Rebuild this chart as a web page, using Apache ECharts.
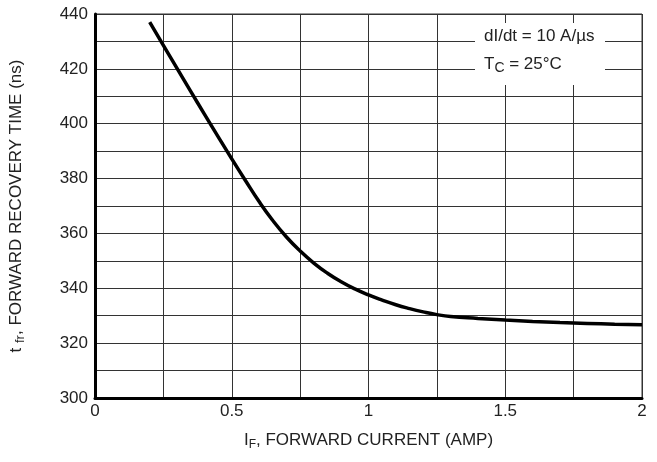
<!DOCTYPE html>
<html><head><meta charset="utf-8">
<script src="https://cdn.jsdelivr.net/npm/echarts@6/dist/echarts.min.js"></script>
<style>html,body{margin:0;padding:0;background:#fff}#c{width:657px;height:462px}</style>
</head><body><div id="c"></div>
<script>
const currentA = [0.2, 0.25, 0.3, 0.35, 0.4, 0.45, 0.5, 0.55, 0.6, 0.65, 0.7, 0.75, 0.8, 0.85, 0.9, 0.95, 1.0, 1.05, 1.1, 1.15, 1.2, 1.25, 1.3, 1.4, 1.5, 1.6, 1.7, 1.8, 1.9, 2.0];
const recoveryNs = [437, 428.6, 420.2, 411.8, 403.5, 395.3, 387.2, 379.3, 371.6, 364.7, 358.7, 353.6, 349.2, 345.5, 342.4, 339.8, 337.6, 335.7, 334.0, 332.6, 331.4, 330.4, 329.7, 329.0, 328.4, 327.9, 327.5, 327.2, 326.9, 326.7];
const xTickLabels = ['0', '0.5', '1', '1.5', '2'];
const yTickLabels = ['300', '320', '340', '360', '380', '400', '420', '440'];
const annotationLines = ['dI/dt = 10 A/\u00b5s', 'T', 'C', ' = 25\u00b0C'];

const FONT = '"Liberation Sans", Arial, sans-serif';
const chart = echarts.init(document.getElementById('c'), null, {renderer: 'canvas'});
const pts = currentA.map((x, i) => [x, recoveryNs[i]]);
chart.setOption({
  animation: false,
  backgroundColor: '#fff',
  grid: {left: 95, right: 15, top: 14, bottom: 64, show: true, borderColor: '#333', borderWidth: 1},
  xAxis: {
    type: 'value', min: 0, max: 2, interval: 0.25,
    axisLine: {show: true, onZero: false, lineStyle: {color: '#000', width: 3}},
    axisTick: {show: false},
    splitLine: {show: true, lineStyle: {color: '#333', width: 1}},
    axisLabel: {
      color: '#222', fontFamily: FONT, fontSize: 17, margin: 5,
      formatter: v => { const i = Math.round(v / 0.5); return Math.abs(v - i * 0.5) < 1e-6 ? xTickLabels[i] : ''; }
    },
    name: '{m|I}{s|F}{m|, FORWARD CURRENT (AMP)}',
    nameLocation: 'middle', nameGap: 32,
    nameTextStyle: {
      rich: {
        m: {fontFamily: FONT, fontSize: 17, color: '#222'},
        s: {fontFamily: FONT, fontSize: 12, color: '#222', padding: [9, 0, 0, 0]}
      }
    }
  },
  yAxis: {
    type: 'value', min: 300, max: 440, interval: 10,
    axisLine: {show: true, onZero: false, lineStyle: {color: '#000', width: 3}},
    axisTick: {show: false},
    splitLine: {show: true, lineStyle: {color: '#333', width: 1}},
    axisLabel: {
      color: '#222', fontFamily: FONT, fontSize: 17, margin: 7,
      formatter: v => { const i = Math.round((v - 300) / 20); return Math.abs(v - 300 - i * 20) < 1e-6 ? yTickLabels[i] : ''; }
    },
    name: '{m|t }{s|fr}{m|, FORWARD RECOVERY TIME (ns)}',
    nameLocation: 'middle', nameGap: 68,
    nameTextStyle: {
      rich: {
        m: {fontFamily: FONT, fontSize: 17, color: '#222'},
        s: {fontFamily: FONT, fontSize: 13, color: '#222', padding: [8, 0, 0, 0]}
      }
    }
  },
  series: [{
    type: 'line', data: pts, smooth: 0.5, showSymbol: false,
    lineStyle: {color: '#000', width: 3.5}, z: 5
  }],
  graphic: [
    {type: 'rect', left: 475, top: 23, shape: {width: 130, height: 62}, style: {fill: '#fff'}, z: 10},
    {type: 'text', left: 484, top: 28, style: {text: annotationLines[0], font: '17px ' + FONT, fill: '#222'}, z: 11},
    {type: 'text', left: 484, top: 56, style: {
      text: '{m|' + annotationLines[1] + '}{s|' + annotationLines[2] + '}{m|' + annotationLines[3] + '}',
      rich: {
        m: {fontFamily: FONT, fontSize: 17, fill: '#222'},
        s: {fontFamily: FONT, fontSize: 14, fill: '#222', padding: [7, 0, 0, 0]}
      }
    }, z: 11}
  ]
});
</script></body></html>
